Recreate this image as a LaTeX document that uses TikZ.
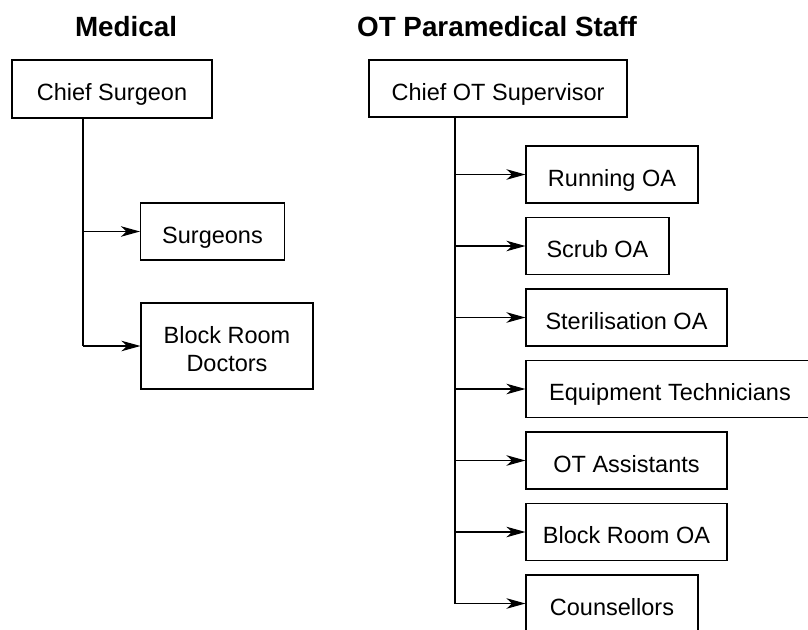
\documentclass[tikz,border=0pt]{standalone}
\usepackage{fontspec}
\setmainfont{Liberation Sans}
\usetikzlibrary{arrows.meta}
\begin{document}
\begin{tikzpicture}[x=1pt,y=-1pt,
  box/.style={draw=black, line width=1.1pt, inner sep=0pt, minimum height=57pt,
    align=center, font=\fontsize{23.5}{28}\selectfont, text height=25pt, text depth=2pt},
  box2/.style={draw=black, line width=1.1pt, inner sep=0pt, minimum height=57pt,
    font=\fontsize{23.5}{28}\selectfont},
  title/.style={font=\fontsize{27.8}{32}\selectfont\bfseries, inner sep=0pt, anchor=base},
  link/.style={line width=1.1pt},
  arr/.style={line width=1.1pt, -{Stealth[length=19pt,width=10.5pt,inset=5.5pt]}}]
\useasboundingbox (0,0) rectangle (808,629);
\begin{scope}
\clip (0,0) rectangle (808,629);
% titles
\node[title] (tmed) at (126,36) {Medical};
\node[title] (tot) at (497,36) {OT Paramedical Staff};
% medical
\node[box, minimum width=200pt, minimum height=58pt] (cs) at (112,89) {Chief Surgeon};
\node[box, minimum width=144pt] (surg) at (212.5,231.5) {Surgeons};
\node[box2, minimum width=172pt, minimum height=86pt] (brd) at (227,346)
  {\raisebox{-6pt}[\height][\depth]{\begin{tabular}{@{}c@{}}Block Room\\Doctors\end{tabular}}};
\coordinate (lx) at (83,0);
\draw[link] (cs.south -| lx) -- (lx |- brd.west);
\draw[arr] (lx |- surg.west) -- (surg.west);
\draw[arr] (lx |- brd.west) -- (brd.west);
% OT paramedical
\node[box, minimum width=258pt] (cot) at (498,88.5) {Chief OT Supervisor};
\node[box, minimum width=172pt] (run) at (612,174.5) {Running OA};
\node[box, minimum width=143pt] (scrub) at (597.5,246) {Scrub OA};
\node[box, minimum width=201pt] (ster) at (626.5,317.5) {Sterilisation OA};
\node[box, minimum width=288pt] (equip) at (670,389) {Equipment Technicians};
\node[box, minimum width=201pt] (ota) at (626.5,460.5) {OT Assistants};
\node[box, minimum width=201pt] (broa) at (626.5,532) {Block Room OA};
\node[box, minimum width=172pt] (couns) at (612,603.5) {Counsellors};
\coordinate (rx) at (455,0);
\draw[link] (cot.south -| rx) -- (rx |- couns.west);
\foreach \n in {run,scrub,ster,equip,ota,broa,couns}
  \draw[arr] (rx |- \n.west) -- (\n.west);
\end{scope}
\end{tikzpicture}
\end{document}
